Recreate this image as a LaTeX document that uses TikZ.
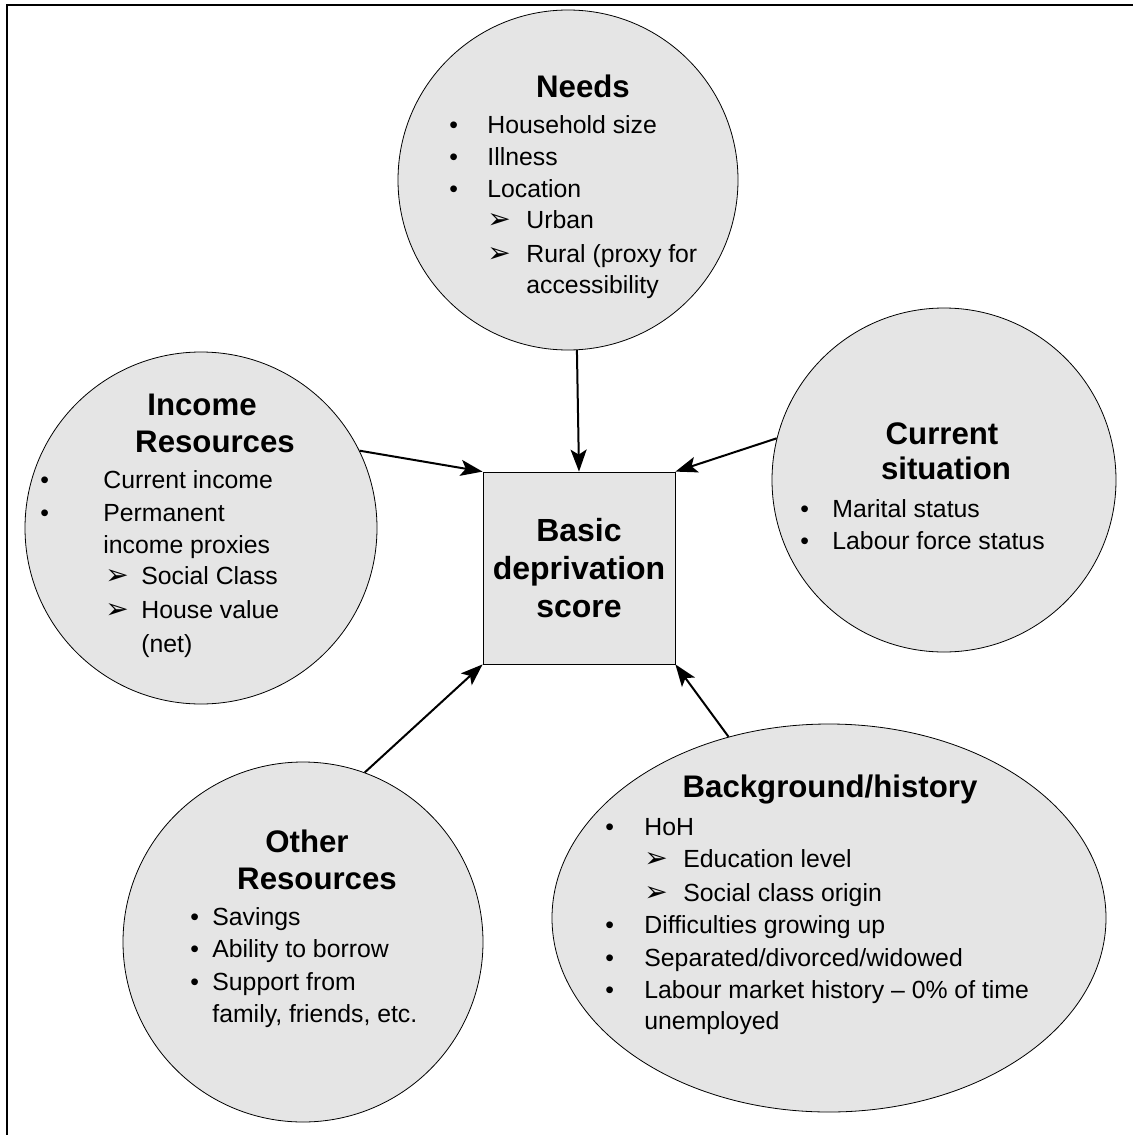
\documentclass[tikz,border=0pt]{standalone}
\usepackage{fontspec}
\setmainfont{Liberation Sans}
\newfontfamily\dejavu{DejaVu Sans}
\usepackage{tikz}
\usetikzlibrary{arrows.meta}
\usetikzlibrary{shapes.geometric}

\newcommand{\bul}[1]{\makebox[#1][l]{\textbullet}}
\newcommand{\arw}[1]{\makebox[#1][l]{{\dejavu\fontsize{14}{15}\selectfont ➢}}}

\tikzset{
	blob/.style={circle, draw, fill=gray!20, minimum size=172pt, inner sep=0pt},
	ttl/.style={anchor=base, inner sep=0pt, font=\bfseries\fontsize{15.6}{18}\selectfont},
	txt/.style={anchor=base west, inner sep=0pt, font=\fontsize{12.4}{15}\selectfont},
	arr/.style={line width=1pt, -{Stealth[length=11pt,width=8pt,inset=2.5pt]}}
}

\begin{document}
\begin{tikzpicture}[x=0.5pt, y=-0.5pt]
	\useasboundingbox (0,0) rectangle (1133,1135);
	\draw[line width=0.8pt] (7,1135) -- (7,5) -- (1133,5);	% frame

	\node[blob, minimum size=170pt] (needs) at (568,180) {};	% Needs
	\node[ttl] (needs-t) at (583,97) {Needs};
	\node[txt] (needs-1) at (449,133) {\bul{19pt}Household size};
	\node[txt] (needs-2) at (449,165) {\bul{19pt}Illness};
	\node[txt] (needs-3) at (449,197) {\bul{19pt}Location};
	\node[txt] (needs-4) at (487,228) {\arw{19.5pt}Urban};
	\node[txt] (needs-5) at (487,262) {\arw{19.5pt}Rural (proxy for};
	\node[txt] (needs-6) at (526,293) {accessibility};

	\node[blob, minimum size=176pt] (inc) at (201,528) {};	% Income
	\node[ttl] (inc-t1) at (202,415) {Income};
	\node[ttl] (inc-t2) at (215,452) {Resources};
	\node[txt] (inc-1) at (40,488) {\bul{31.5pt}Current income};
	\node[txt] (inc-2) at (40,521) {\bul{31.5pt}Permanent};
	\node[txt] (inc-3) at (103,553) {income proxies};
	\node[txt] (inc-4) at (105,584) {\arw{18pt}Social Class};
	\node[txt] (inc-5) at (105,618) {\arw{18pt}House value};
	\node[txt] (inc-6) at (141,652) {(net)};

	\node[blob] (cur) at (944,480) {};	% Current
	\node[ttl] (cur-t1) at (942,444) {Current};
	\node[ttl] (cur-t2) at (946,479) {situation};
	\node[txt] (cur-1) at (800,517) {\bul{16pt}Marital status};
	\node[txt] (cur-2) at (800,549) {\bul{16pt}Labour force status};

	\node[blob, minimum size=180pt] (oth) at (303,942) {};	% Other
	\node[ttl] (oth-t1) at (307,852) {Other};
	\node[ttl] (oth-t2) at (317,889) {Resources};
	\node[txt] (oth-1) at (190,925) {\bul{11pt}Savings};
	\node[txt] (oth-2) at (190,957) {\bul{11pt}Ability to borrow};
	\node[txt] (oth-3) at (190,990) {\bul{11pt}Support from};
	\node[txt] (oth-4) at (212,1022) {family, friends, etc.};

	\node[ellipse, draw, fill=gray!20, minimum width=277pt, minimum height=194pt, inner sep=0pt] (bg) at (829,918) {};	% Background
	\node[ttl] (bg-t) at (830,797) {Background/history};
	\node[txt] (bg-1) at (605,835) {\bul{19.5pt}HoH};
	\node[txt] (bg-2) at (644,867) {\arw{19.5pt}Education level};
	\node[txt] (bg-3) at (644,901) {\arw{19.5pt}Social class origin};
	\node[txt] (bg-4) at (605,933) {\bul{19.5pt}Difficulties growing up};
	\node[txt] (bg-5) at (605,966) {\bul{19.5pt}Separated/divorced/widowed};
	\node[txt] (bg-6) at (605,998) {\bul{19.5pt}Labour market history -- 0\% of time};
	\node[txt] (bg-7) at (644,1029) {unemployed};

	\node[draw, fill=gray!20, minimum size=96pt, inner sep=0pt, align=center,
		font=\bfseries\fontsize{16}{19}\selectfont] (score) at (579,568) {Basic\\deprivation\\score};

	\draw[arr] (needs.-87) -- (score.north);	% Pointer
	\draw[arr] (inc.26) -- (score.north west);
	\draw[arr] (cur.166) -- (score.north east);
	\draw[arr] (oth.70) -- (score.south west);
	\draw[arr] (bg.119) -- (score.south east);
\end{tikzpicture}
\end{document}
